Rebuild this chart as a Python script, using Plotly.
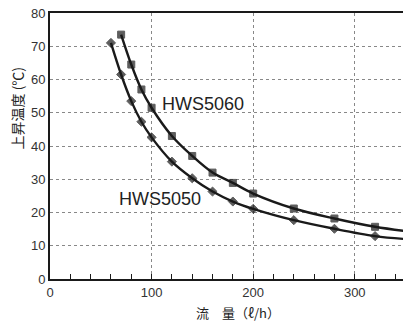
import plotly.graph_objects as go

flow_5060 = [70, 80, 90, 100, 120, 140, 160, 180, 200, 240, 280, 320, 350]
temp_5060 = [73.5, 64.5, 57.0, 51.5, 43.0, 37.0, 32.0, 28.9, 25.7, 21.2, 18.2, 15.7, 14.4]
flow_5050 = [60, 70, 80, 90, 100, 120, 140, 160, 180, 200, 240, 280, 320, 350]
temp_5050 = [71.0, 61.5, 53.5, 47.3, 42.6, 35.3, 30.3, 26.3, 23.3, 21.1, 17.7, 15.1, 12.9, 12.0]

series_names = ["HWS5060", "HWS5050"]
x_ticks = [0, 100, 200, 300]
y_ticks = [0, 10, 20, 30, 40, 50, 60, 70, 80]
y_title = "上昇温度 (℃)"
x_title = "流　量（ℓ/h）"

ink = "#1a1a1a"
fig = go.Figure()
fig.add_trace(go.Scatter(
    x=flow_5060, y=temp_5060, mode="lines+markers", line=dict(color=ink, width=2.4, shape="spline"),
    marker=dict(symbol="square", size=[7] * (len(flow_5060) - 1) + [0], color=ink,
                line=dict(color=ink, width=1)),
    name=series_names[0], showlegend=False))
fig.add_trace(go.Scatter(
    x=flow_5050, y=temp_5050, mode="lines+markers", line=dict(color=ink, width=2.4, shape="spline"),
    marker=dict(symbol="diamond", size=[7] * (len(flow_5050) - 1) + [0], color=ink,
                line=dict(color=ink, width=1)),
    name=series_names[1], showlegend=False))

tickfont = dict(family="Liberation Sans, Arial, sans-serif", size=13, color="#333")
fig.update_xaxes(range=[0, 347.5], tickvals=x_ticks, ticks="inside", ticklen=5, tickwidth=1.2,
                 tickcolor=ink, showline=True, linecolor=ink, linewidth=2, mirror=True,
                 showgrid=True, gridcolor="#888", griddash="dot", gridwidth=1,
                 minor=dict(dtick=20, ticks="inside", ticklen=5, tickwidth=1.2, tickcolor=ink, showgrid=False),
                 tickfont=tickfont, zeroline=False)
fig.update_yaxes(range=[0, 80], tickvals=y_ticks, ticks="", showline=True, linecolor=ink, linewidth=2,
                 showgrid=True, gridcolor="#888", griddash="dot", gridwidth=1,
                 tickfont=tickfont, zeroline=False)

fig.add_annotation(x=150.6, y=52.5, xref="x", yref="y", text=series_names[0], showarrow=False,
                   font=dict(family="Liberation Sans, Arial, sans-serif", size=18, color="#222"))
fig.add_annotation(x=108.3, y=24.1, xref="x", yref="y", text=series_names[1], showarrow=False,
                   font=dict(family="Liberation Sans, Arial, sans-serif", size=18, color="#222"))

cjk = "Noto Sans CJK JP, sans-serif"
W, H, L, T, PW, PH = 403, 324, 50, 13, 353, 266
fig.add_annotation(x=(16.5 - L) / PW, y=1 - (108 - T) / PH, xref="paper", yref="paper", text=y_title,
                   textangle=-90, showarrow=False, font=dict(family=cjk, size=14, color="#222"),
                   xanchor="center", yanchor="middle")
fig.add_annotation(x=(238 - L) / PW, y=1 - (312 - T) / PH, xref="paper", yref="paper", text=x_title,
                   showarrow=False, font=dict(family=cjk, size=13, color="#222"),
                   xanchor="center", yanchor="middle")

fig.update_layout(width=W, height=H, margin=dict(l=L, r=0, t=T, b=H - T - PH),
                  plot_bgcolor="white", paper_bgcolor="white")
fig.write_html("out.html")
